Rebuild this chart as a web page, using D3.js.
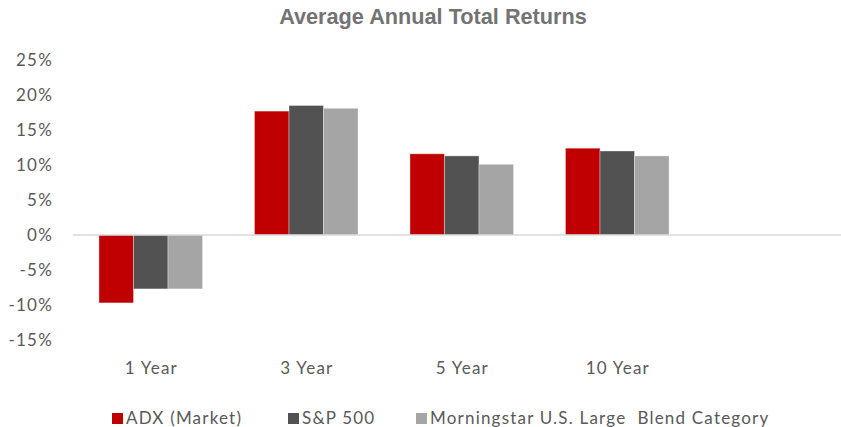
<!DOCTYPE html>
<html>
<head>
<meta charset="utf-8">
<script src="https://cdn.jsdelivr.net/npm/d3@7"></script>
<style>
  html, body { margin: 0; padding: 0; background: #fff; }
  svg { display: block; }
</style>
</head>
<body>
<svg id="chart"></svg>
<script>
// Data
const categories = ['1 Year', '3 Year', '5 Year', '10 Year'];
const seriesNames = ['ADX (Market)', 'S&P 500', 'Morningstar U.S. Large  Blend Category'];
const adxValues = [-9.7, 17.7, 11.6, 12.4];
const spValues = [-7.7, 18.5, 11.3, 12.0];
const morningstarValues = [-7.7, 18.1, 10.1, 11.3];
const yTicks = [-15, -10, -5, 0, 5, 10, 15, 20, 25];
const seriesColors = ['#C00000', '#525252', '#A5A5A5'];

const seriesValues = [adxValues, spValues, morningstarValues];

const width = 841, height = 427;
const textColor = '#595959';
const font = 'Lato, "Noto Sans", sans-serif';
const spacing = '1.2px';

const svg = d3.select('#chart')
  .attr('width', width)
  .attr('height', height)
  .attr('viewBox', `0 0 ${width} ${height}`);

// Title
svg.append('text')
  .attr('x', 433)
  .attr('y', 24)
  .attr('text-anchor', 'middle')
  .attr('font-family', '"Liberation Sans", Arial, sans-serif')
  .attr('font-size', '21.7px')
  .attr('font-weight', 'bold')
  .attr('fill', '#737373')
  .text('Average Annual Total Returns');

const xScale = d3.scaleBand()
  .domain(categories)
  .range([73, 695])
  .paddingInner(0.334)
  .paddingOuter(0.167);

const xInner = d3.scaleBand()
  .domain(d3.range(seriesNames.length))
  .range([0, xScale.bandwidth()]);

const yScale = d3.scaleLinear()
  .domain([-15, 25])
  .range([340, 60]);

// Y axis labels
const yAxis = svg.append('g')
  .attr('transform', 'translate(53, 0)')
  .call(d3.axisLeft(yScale).tickValues(yTicks).tickSize(0).tickPadding(0).tickFormat(d => `${d}%`));
yAxis.select('.domain').remove();
yAxis.selectAll('text')
  .attr('font-family', font)
  .attr('font-size', '17px')
  .attr('letter-spacing', spacing)
  .attr('fill', textColor);

// Bars
seriesValues.forEach((vals, s) => {
  svg.append('g')
    .selectAll('rect')
    .data(vals)
    .join('rect')
    .attr('x', (d, i) => xScale(categories[i]) + xInner(s))
    .attr('y', d => yScale(Math.max(0, d)))
    .attr('width', xInner.bandwidth())
    .attr('height', d => Math.abs(yScale(d) - yScale(0)))
    .attr('fill', seriesColors[s])
    .attr('stroke', 'rgba(255,255,255,0.35)')
    .attr('stroke-width', 1);
});

// Zero line
svg.append('line')
  .attr('x1', 73)
  .attr('x2', 841)
  .attr('y1', yScale(0))
  .attr('y2', yScale(0))
  .attr('stroke', '#d9d9d9')
  .attr('stroke-width', 1.5);

// X axis labels
const xAxis = svg.append('g')
  .attr('transform', 'translate(0.6, 368)')
  .call(d3.axisBottom(xScale).tickSize(0).tickPadding(0));
xAxis.select('.domain').remove();
xAxis.selectAll('text')
  .attr('dy', '0.35em')
  .attr('font-family', font)
  .attr('font-size', '17px')
  .attr('letter-spacing', spacing)
  .attr('fill', textColor);

// Legend
const legendX = [112, 288, 416];
const legend = svg.append('g');
seriesNames.forEach((name, i) => {
  legend.append('rect')
    .attr('x', legendX[i])
    .attr('y', 413)
    .attr('width', 11)
    .attr('height', 11)
    .attr('fill', seriesColors[i]);
  legend.append('text')
    .attr('x', legendX[i] + 14)
    .attr('y', 418.5)
    .attr('dy', '0.35em')
    .attr('font-family', font)
    .attr('font-size', '17px')
    .attr('letter-spacing', spacing)
    .attr('fill', textColor)
    .attr('xml:space', 'preserve')
    .style('white-space', 'pre')
    .text(name);
});
</script>
</body>
</html>
